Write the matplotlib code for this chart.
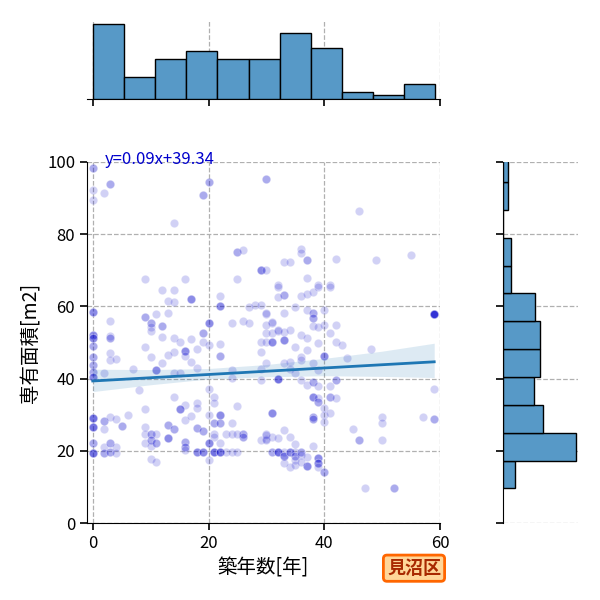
import numpy as np
import matplotlib
matplotlib.use("Agg")
import matplotlib.pyplot as plt

plt.rcParams['font.family'] = ['Noto Sans CJK JP', 'DejaVu Sans']

# scatter points: age [years], area [m2], number of overlapping points
pts = [
    (0, 98.2, 2), (3, 93.8, 2), (0, 92.2, 1), (2, 91.3, 1), (0, 89.5, 1), (20, 94.4, 2), (19, 90.8, 2),
    (14, 83.1, 1), (25, 75, 2), (26, 75.6, 1), (29, 70.1, 1), (9, 67.6, 1), (16, 67.6, 1), (25, 67.6, 1),
    (30, 95.2, 2), (46, 86.3, 1), (36, 76, 1), (36, 74.7, 1), (33, 72.2, 1), (34, 72.2, 1), (37, 72.9, 2),
    (29, 70, 2), (30, 70, 1), (42, 73, 1), (49, 72.8, 1), (55, 74.2, 1), (37, 68, 1), (32, 66, 1),
    (39, 66, 1), (41, 66, 1),
    (12, 64.5, 1), (14, 64.5, 1), (13, 61.6, 1), (14, 61.3, 1), (17, 62, 3), (22, 62.9, 1), (22, 60, 3),
    (0, 58.4, 3), (9, 57, 2), (10, 55.5, 2), (10, 54.4, 1), (10, 53.3, 1), (11, 57.9, 1), (13, 58.3, 1),
    (3, 56, 1), (12, 54.7, 2), (20, 55.3, 3), (24, 55.3, 1), (26, 56, 1), (27, 55.3, 1), (28, 60.3, 1),
    (29, 60.3, 1), (27, 59.9, 1), (30, 57.9, 1), (31, 55.3, 1),
    (0, 52.1, 3), (0, 51.2, 3), (0, 49, 2), (3, 51.9, 1), (3, 51.2, 2), (12, 51.4, 1), (9, 48.7, 1),
    (10, 45.9, 1), (3, 47.2, 1), (3, 45.2, 1), (4, 45.4, 1), (14, 51.2, 1), (15, 50.2, 1), (17, 50.9, 1),
    (19, 52.7, 2), (19, 50.2, 1), (18, 48.1, 1), (16, 47.6, 3), (14, 47.3, 1), (13, 46.5, 1), (17, 44.7, 1),
    (16, 46.3, 1), (12, 44.4, 1), (20, 49.3, 1), (22, 49.5, 1), (22, 46.3, 2), (29, 50.2, 1), (30, 50.2, 1),
    (31, 50.2, 1), (30, 52.7, 1), (31, 52.7, 1), (29, 47.5, 1), (32, 53.3, 1),
    (0, 45.9, 2), (0, 43.8, 2), (0, 41.9, 2), (0, 40.5, 3), (2, 41.5, 1), (7, 42.6, 1), (11, 42.4, 3),
    (14, 41.6, 1), (15, 41.6, 1), (18, 42.8, 1), (24, 42.4, 1), (24, 40.1, 1), (29, 42.6, 1), (29, 39.6, 1),
    (32, 39.8, 4),
    (8, 36.8, 1), (20, 37, 1), (14, 35, 1), (21, 35, 1), (21, 33.2, 1), (16, 32.7, 1), (18, 33.2, 1),
    (18, 31.8, 1), (15, 31.6, 3), (9, 31.5, 1), (25, 32.4, 1), (6, 29.9, 1), (31, 30.6, 3),
    (0, 29, 4), (0, 26.7, 4), (2, 28.3, 2), (2, 26, 1), (3, 29.4, 1), (4, 28.7, 1), (5, 26.9, 2),
    (9, 26.7, 1), (9, 24.7, 1), (10, 24.7, 2), (11, 24.7, 1), (13, 27.1, 2), (14, 26, 2), (16, 28.5, 1),
    (17, 29.6, 1), (18, 26.3, 2), (19, 25.6, 2), (20, 29.9, 1), (21, 27.6, 2), (21, 24.6, 1), (21, 23.9, 1),
    (22, 29.9, 3), (22, 27.8, 2), (24, 27.6, 1), (23, 24.7, 1), (24, 24.7, 1), (26, 24.7, 2), (26, 23.9, 2),
    (25, 24.7, 1), (29, 23, 1), (30, 24.7, 1), (30, 23.2, 1), (31, 23.9, 1),
    (0, 22.1, 2), (0, 19.3, 4), (2, 21.1, 1), (2, 19.3, 2), (3, 22.1, 2), (3, 19.8, 2), (4, 21.1, 1),
    (4, 19.3, 1), (9, 22.1, 1), (10, 23, 2), (10, 21.3, 1), (11, 22.1, 2), (10, 17.6, 1), (11, 17, 1),
    (13, 23.5, 3), (16, 22.5, 2), (16, 21.1, 2), (16, 20.2, 1), (18, 19.8, 3), (19, 19.8, 3), (20, 22.1, 3),
    (20, 17.5, 1), (21, 19.8, 4), (22, 19.8, 4), (22, 22.1, 1), (23, 19.8, 1), (24, 19.8, 1), (25, 19.8, 1),
    (31, 19.8, 2), (32, 19.8, 1),
    (32, 65.3, 1), (33, 63.2, 2), (32, 62.7, 1), (36, 62.9, 1), (37, 63.4, 1), (38, 64.1, 1), (39, 65.3, 1),
    (41, 65.3, 1), (35, 59.8, 1), (37, 59, 1), (38, 58.1, 2), (40, 59, 1), (30, 58.1, 1), (33, 58.1, 1),
    (31, 55.8, 1), (30, 54.8, 1), (32, 53.5, 1), (33, 53, 1), (34, 53.5, 1), (33, 50.7, 3), (31, 50.2, 2),
    (38, 56.7, 2), (38, 54.6, 1), (39, 54.4, 1), (40, 54.8, 1), (42, 54.8, 1), (41, 52.7, 1),
    (35, 48.8, 1), (36, 52.1, 1), (37, 51.2, 1), (39, 49.8, 1), (42, 50.2, 1), (43, 49.3, 1), (37, 47.9, 1),
    (36, 46.1, 1), (36, 45.2, 1), (34, 44.7, 1), (33, 44.2, 1), (38, 44.2, 1), (40, 46.3, 3), (39, 42.4, 1),
    (44, 45.6, 1), (48, 48.1, 1), (30, 44.2, 1),
    (34, 42.6, 1), (35, 41.5, 1), (36, 39.6, 1), (37, 38.2, 1), (38, 39.1, 2), (39, 38, 1), (41, 38, 1),
    (42, 39.6, 2),
    (38, 34.8, 3), (39, 34.5, 1), (39, 33.6, 2), (41, 34.8, 2), (42, 34.5, 1), (40, 31.8, 1), (40, 29.9, 1),
    (41, 30.4, 1), (40, 28.1, 1), (38, 29.4, 2), (38, 28.7, 2),
    (45, 26, 1), (46, 23, 2), (50, 29.4, 1), (50, 27.8, 1), (50, 23, 1), (57, 29.4, 1), (59, 28.7, 2),
    (59, 37, 1), (59, 57.8, 8), (47, 9.6, 1), (52, 9.6, 2),
    (30, 24.4, 1), (30, 23, 1), (32, 23.5, 1), (33, 25.8, 1), (34, 23.9, 1), (32, 19.8, 3), (33, 19.8, 1),
    (33, 18.6, 3), (34, 19.8, 3), (35, 21.9, 1), (35, 19.8, 1), (35, 18.6, 2), (35, 17.5, 1), (36, 19.8, 2),
    (36, 18.8, 1), (37, 18.4, 1), (37, 15.9, 3), (38, 21.3, 1), (39, 17.9, 3), (39, 16.5, 3), (39, 15.6, 1),
    (40, 14.2, 2), (34, 15.6, 1), (33, 16.5, 1), (35, 16.1, 1), (36, 17, 1),
]
age = np.repeat([p[0] for p in pts], [p[2] for p in pts])
area = np.repeat([p[1] for p in pts], [p[2] for p in pts])

# regression line and its confidence band
slope, intercept = 0.09, 39.34
band_x = [0, 10, 20, 30, 40, 50, 59]
band_lo = [36.4, 38.3, 39.9, 40.5, 40.8, 40.6, 40.3]
band_hi = [42.6, 42.5, 42.8, 43.9, 45.6, 47.6, 49.8]

# marginal histograms
top_edges = [0, 5.38, 10.76, 16.15, 21.53, 26.91, 32.29, 37.67, 43.05, 48.44, 53.82, 59.2]
top_counts = [34, 10, 18, 22, 18, 18, 30, 23, 3, 2, 7]
right_edges = [9.6, 17.3, 25.0, 32.7, 40.4, 48.2, 55.9, 63.6, 71.3, 79.0, 86.7, 94.4, 102.1]
right_counts = [8, 48, 26, 20, 24, 24, 21, 5, 5, 0, 3, 3]

bar_color = '#5799c7'
grid_kw = dict(ls='--', color='#b0b0b0', lw=0.9)

fig = plt.figure(figsize=(6, 6), dpi=100)
ax = fig.add_axes([87/600, 77/600, 353/600, 361/600])
ax_top = fig.add_axes([87/600, 501/600, 353/600, 79/600])
ax_right = fig.add_axes([503/600, 77/600, 75/600, 361/600])

ax.scatter(age, area, s=36, color='mediumblue', alpha=0.18, edgecolors='white', linewidths=0.75, zorder=3)
ax.fill_between(band_x, band_lo, band_hi, color='#1f77b4', alpha=0.15, lw=0, zorder=4)
lx = np.array([min(age), max(age)])
ax.plot(lx, slope * lx + intercept, color='#1f77b4', lw=2, zorder=5)
ax.text(2, 100.6, f'y={slope:.2f}x+{intercept:.2f}', color='mediumblue', fontsize=12,
        va='center', ha='left', zorder=6)

ax.set_xlim(-1, 60)
ax.set_ylim(0, 100)
ax.set_xticks([0, 20, 40, 60])
ax.set_yticks([0, 20, 40, 60, 80, 100])
ax.grid(True, **grid_kw)
ax.set_axisbelow(True)
ax.spines[['top', 'right']].set_visible(False)
ax.tick_params(labelsize=12, length=5, width=1.2)
ax.set_xlabel('築年数[年]', fontsize=14)
ax.set_ylabel('専有面積[m2]', fontsize=14)

ax_top.bar(top_edges[:-1], top_counts, width=np.diff(top_edges), align='edge',
           color=bar_color, edgecolor='black', lw=1, zorder=3)
ax_top.set_xlim(ax.get_xlim())
ax_top.set_ylim(0, max(top_counts) * 1.055)
ax_top.set_xticks([0, 20, 40, 60])
ax_top.set_yticks([])
ax_top.xaxis.grid(True, **grid_kw)
ax_top.tick_params(labelbottom=False, length=5, width=1.2)
ax_top.spines[['top', 'right', 'left']].set_visible(False)

ax_right.barh(right_edges[:-1], right_counts, height=np.diff(right_edges), align='edge',
              color=bar_color, edgecolor='black', lw=1, zorder=3)
ax_right.set_ylim(ax.get_ylim())
ax_right.set_xlim(0, 49)
ax_right.set_yticks([0, 20, 40, 60, 80, 100])
ax_right.set_xticks([])
ax_right.yaxis.grid(True, **grid_kw)
ax_right.tick_params(labelleft=False, length=5, width=1.2)
ax_right.spines[['top', 'right', 'bottom']].set_visible(False)

fig.text(0.69, 0.053, '見沼区', fontsize=13, fontweight='bold', color='#a82800',
         ha='center', va='center',
         bbox=dict(boxstyle='round,pad=0.2', facecolor='#ffd699', edgecolor='#ff6600', lw=2))

fig.savefig('out.png', dpi=100)
